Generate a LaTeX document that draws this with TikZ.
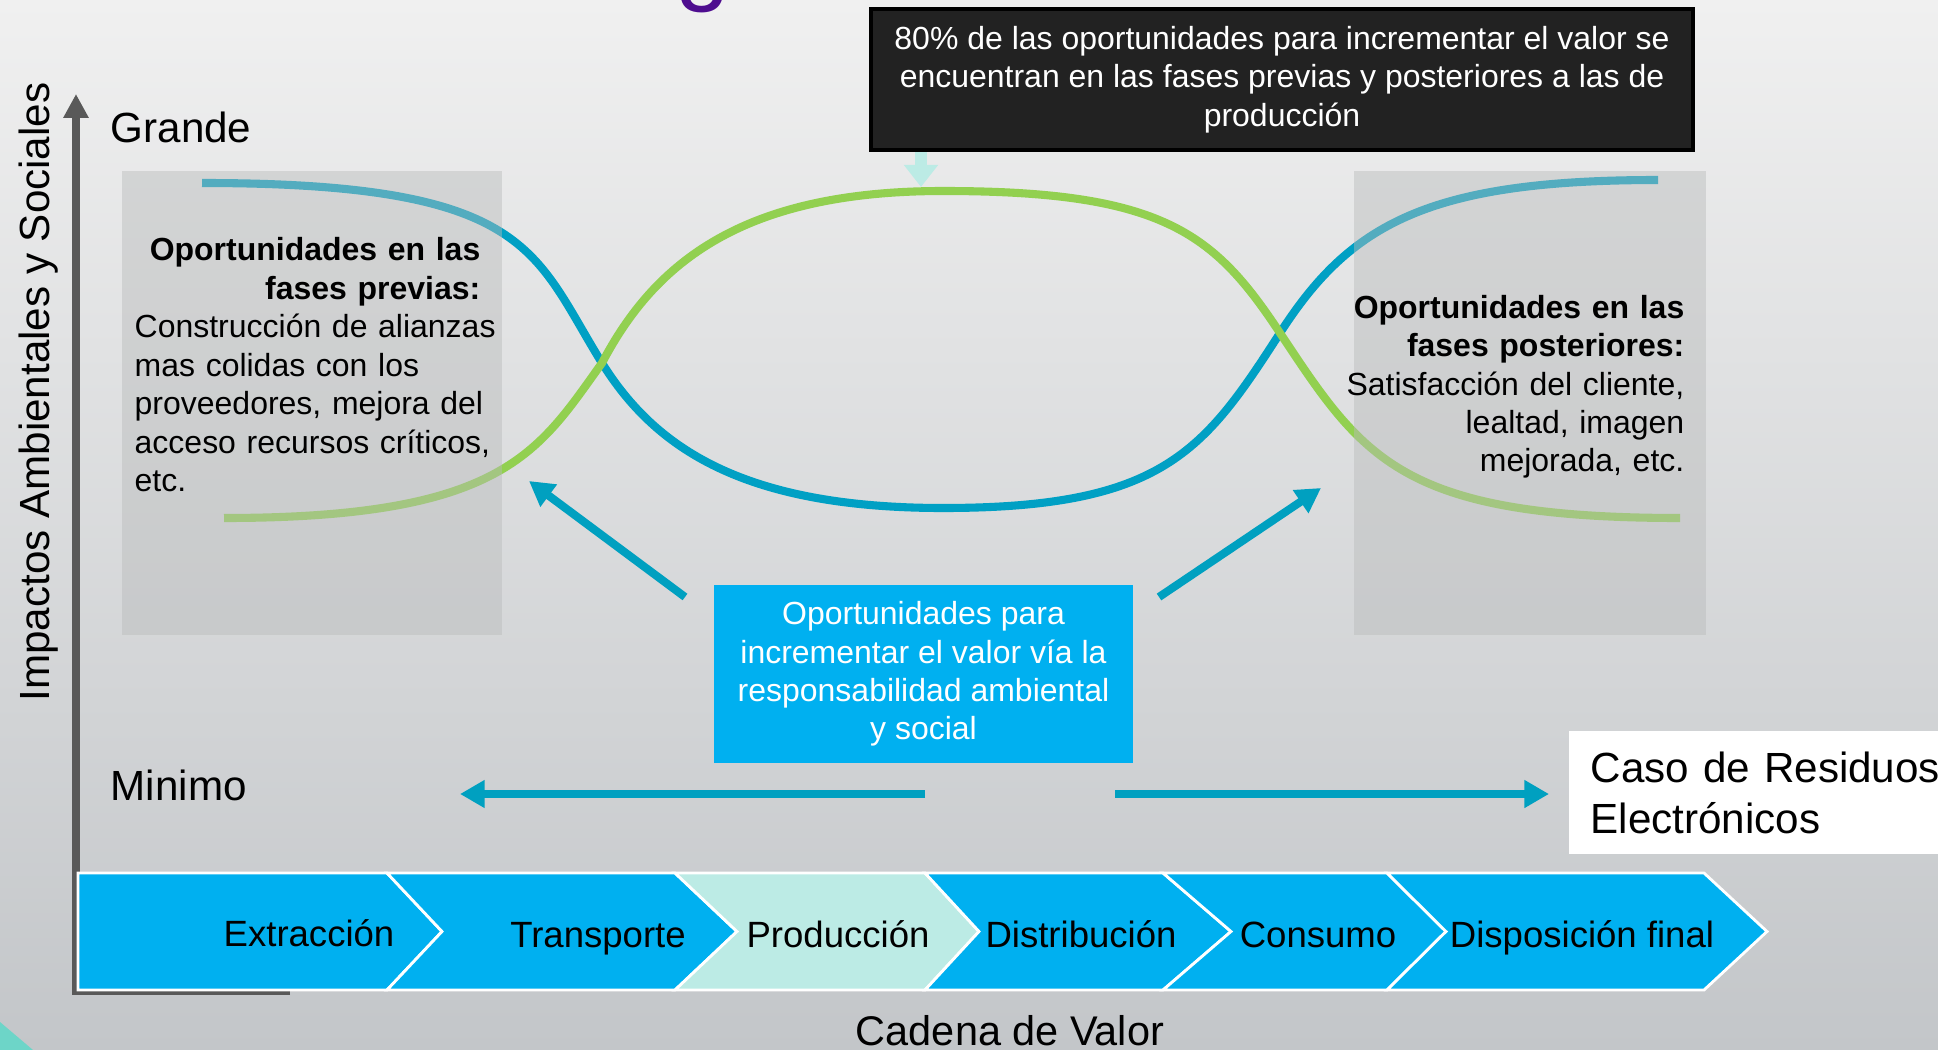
\documentclass[tikz,border=0pt]{standalone}
\usepackage{fontspec}
\setmainfont{Liberation Sans}
\usetikzlibrary{arrows.meta}

\definecolor{bgtop}{HTML}{F0F0F0}
\definecolor{bgmid}{HTML}{E6E7E8}
\definecolor{bgbottom}{HTML}{C3C6C9}
\definecolor{chainblue}{HTML}{00B0F0}
\definecolor{prodteal}{HTML}{BCEBE5}
\definecolor{curveblue}{HTML}{00A0C4}
\definecolor{curvegreen}{HTML}{92D050}
\definecolor{arrowblue}{HTML}{00A0C0}
\definecolor{axisgray}{HTML}{595959}
\definecolor{notebg}{HTML}{222222}
\definecolor{boxgray}{HTML}{B9BBBB}
\definecolor{cornerteal}{HTML}{6DD5C8}
\definecolor{titlepurple}{HTML}{4E0D8F}

\tikzset{
    chain/.style = {fill=chainblue, draw=white, line width=0.8pt},
    chaintext/.style = {font=\fontsize{10.4}{12.5}\selectfont, anchor=base, inner sep=0pt},
    bigtext/.style = {font=\fontsize{12}{14.5}\selectfont, inner sep=0pt},
    bodytext/.style = {font=\fontsize{9.1}{10.95}\selectfont, inner sep=0pt, text width=44mm},
    phasebox/.style = {fill=boxgray, fill opacity=0.45, inner sep=0pt},
    curve/.style = {line width=2.3pt},
    oppArrow/.style = {draw=arrowblue, line width=2.3pt, -{Triangle[length=7pt,width=7.5pt]}},
    noteArrow/.style = {draw=prodteal, line width=3.4pt, -{Triangle[length=6.3pt,width=9.4pt]}},
    axisline/.style = {draw=axisgray, line width=2pt, -{Triangle[length=6.8pt,width=6.8pt]}}
}

\begin{document}
\begin{tikzpicture}[x=0.1mm, y=-0.1mm]
    \useasboundingbox (0,0) rectangle (1938,1050);
    \clip (0,0) rectangle (1938,1050);
    % background
    \shade[top color=bgtop, middle color=bgmid, bottom color=bgbottom] (0,0) rectangle (1938,1050);
    \fill[cornerteal] (0,1022) -- (33,1050) -- (0,1050) -- cycle;
    \node (title) [font=\fontsize{28}{30}\selectfont, text=titlepurple, anchor=base, inner sep=0pt] at (703,-7) {g};

    % axes
    \draw[axisline] (290,991) -- (76,991) -- (76,94);
    \node (yaxis) [bigtext, rotate=90, anchor=base] at (49,392) {Impactos Ambientales y Sociales};
    \node (grande) [bigtext, anchor=base west] at (110,143) {Grande};
    \node (minimo) [bigtext, anchor=base west] at (110,800) {Minimo};

    % curves
    \draw[curve, curveblue] (202,183) .. controls (532,183) and (533,252) .. (602,363)
        .. controls (655,448) and (743,508) .. (943,508)
        .. controls (1163,508) and (1204,451) .. (1280,333)
        .. controls (1350,224) and (1428,180) .. (1658,180);
    \draw[curve, curvegreen] (224,518) .. controls (504,518) and (538,452) .. (602,363)
        .. controls (655,262) and (743,191) .. (943,191)
        .. controls (1163,191) and (1214,233) .. (1280,333)
        .. controls (1363,458) and (1400,518) .. (1680,518);

    % phase boxes
    \node (prevBox) [phasebox, minimum width=38mm, minimum height=46.4mm] at (312,403) {};
    \node (postBox) [phasebox, minimum width=35.2mm, minimum height=46.4mm] at (1530,403) {};
    \node (prevHead) [bodytext, font=\fontsize{9.1}{10.95}\selectfont\bfseries, align=right, anchor=base east] at (481,261) {Oportunidades en las\\fases previas:};
    \node (prevBody) [bodytext, align=left, anchor=base west] at (134,338) {Construcción de alianzas\\mas colidas con los\\proveedores, mejora del\\acceso recursos críticos,\\etc.};
    \node (postHead) [bodytext, font=\fontsize{9.1}{10.95}\selectfont\bfseries, align=right, anchor=base east] at (1685,318) {Oportunidades en las\\fases posteriores:};
    \node (postBody) [bodytext, align=right, anchor=base east] at (1685,395) {Satisfacción del cliente,\\lealtad, imagen\\mejorada, etc.};

    % note box
    \node (note) [fill=notebg, draw=black, line width=1.2pt, text=white, font=\fontsize{9.1}{10.95}\selectfont, align=center, minimum width=82.2mm, minimum height=14.1mm, inner sep=0pt] at (1282,79.5) {80\% de las oportunidades para incrementar el valor se\\encuentran en las fases previas y posteriores a las de\\producción};
    \coordinate (noteTip) at (921,187);
    \draw[noteArrow] (note.south -| noteTip) -- (noteTip);

    % opportunity box and arrows
    \node (opp) [fill=chainblue, text=white, font=\fontsize{9.1}{10.9}\selectfont, align=center, minimum width=41.9mm, minimum height=17.8mm, inner sep=0pt] at (923.5,674) {Oportunidades para\\incrementar el valor vía la\\responsabilidad ambiental\\y social};
    \coordinate (prevTail) at (685,597);
    \coordinate (prevTip) at (529,481);
    \coordinate (postTail) at (1159,597);
    \coordinate (postTip) at (1321,488);
    \coordinate (leftTail) at (925,794);
    \coordinate (leftTip) at (460,794);
    \coordinate (rightTail) at (1115,794);
    \coordinate (rightTip) at (1549,794);
    \draw[oppArrow] (prevTail) -- (prevTip);
    \draw[oppArrow] (postTail) -- (postTip);
    \draw[oppArrow] (leftTail) -- (leftTip);
    \draw[oppArrow] (rightTail) -- (rightTip);

    % case box
    \node (caso) [bigtext, fill=white, anchor=west, align=left, text width=36mm, inner xsep=2.2mm, minimum height=12.3mm] at (1568,792.5) {Caso de Residuos\\Electrónicos};

    % value chain
    \draw[chain] (78,873) -- (387,873) -- (442,931.5) -- (387,990) -- (78,990) -- cycle;
    \draw[chain] (387,873) -- (675,873) -- (737,931.5) -- (675,990) -- (387,990) -- (442,931.5) -- cycle;
    \draw[chain, fill=prodteal] (675,873) -- (925,873) -- (979,931.5) -- (925,990) -- (675,990) -- (737,931.5) -- cycle;
    \draw[chain] (925,873) -- (1163,873) -- (1231,931.5) -- (1163,990) -- (925,990) -- (979,931.5) -- cycle;
    \draw[chain] (1163,873) -- (1387,873) -- (1446,931.5) -- (1387,990) -- (1163,990) -- (1231,931.5) -- cycle;
    \draw[chain] (1387,873) -- (1704,873) -- (1767,931.5) -- (1704,990) -- (1387,990) -- (1446,931.5) -- cycle;
    \node (extr) [chaintext] at (309,946) {Extracción};
    \node (trans) [chaintext] at (598,947) {Transporte};
    \node (prod) [chaintext] at (838,947) {Producción};
    \node (distr) [chaintext] at (1081,947) {Distribución};
    \node (cons) [chaintext] at (1318,947) {Consumo};
    \node (disp) [chaintext] at (1582,947) {Disposición final};
    \node (xaxis) [bigtext, font=\fontsize{11.8}{14}\selectfont, anchor=base] at (1010,1045) {Cadena de Valor};
\end{tikzpicture}
\end{document}
